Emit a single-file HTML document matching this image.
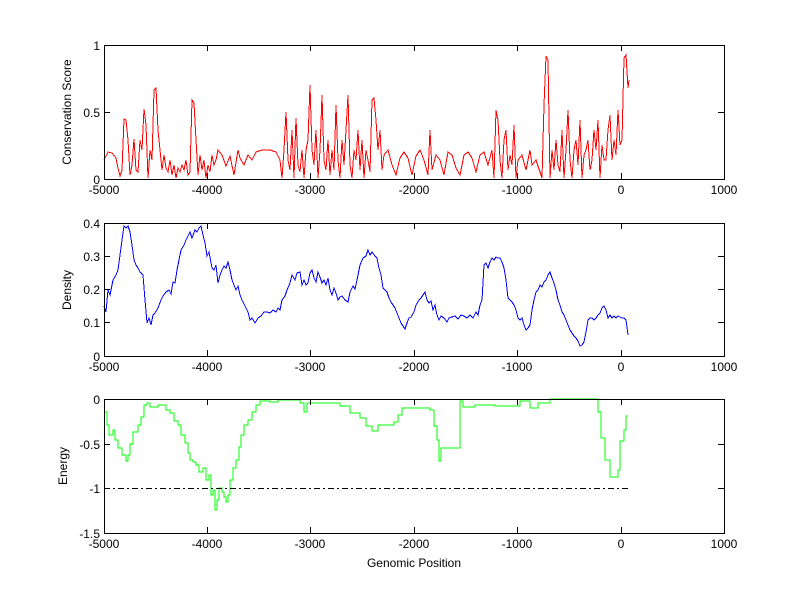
<!DOCTYPE html>
<html><head><style>
html,body{margin:0;padding:0;background:#fff;width:800px;height:599px;overflow:hidden}
text{font-family:"Liberation Sans",sans-serif;font-size:12px;fill:#000}
</style></head><body>
<svg width="800" height="599" viewBox="0 0 800 599" xmlns="http://www.w3.org/2000/svg">
<rect width="800" height="599" fill="#fff"/>
<g fill="none" stroke-width="1" shape-rendering="crispEdges">
<polyline stroke="#f00" points="104,160 108,152 112,153 116,158 118,168 120,176 122,170 124,119 126,120 128,140 130,175 132,165 134,139 136,170 138,172 140,140 142,150 144,109 146,125 148,178 150,150 152,160 154,90 156,88 158,130 160,150 162,170 164,155 166,168 168,172 170,160 172,175 174,165 176,178 178,168 180,172 182,165 184,170 186,160 188,175 190,172 192,100 194,103 196,140 198,175 200,155 202,170 204,160 206,178 208,165 210,172 212,155 214,165 216,160 218,150 222,155 226,166 230,156 234,175 238,150 240,158 244,165 248,155 252,160 256,152 262,150 270,150 276,152 280,160 282,178 284,150 286,112 288,160 290,170 292,130 294,178 296,118 298,165 300,172 302,150 304,178 306,150 308,140 310,85 312,150 314,165 316,130 318,178 320,150 322,95 324,160 326,170 328,140 330,175 332,150 334,170 336,105 338,160 340,178 342,140 344,165 346,130 348,95 350,165 352,178 354,150 356,160 358,130 360,170 362,140 364,178 366,150 368,160 370,172 372,100 374,98 376,120 378,150 380,130 382,170 384,155 388,150 392,165 396,175 400,158 404,152 408,158 412,175 416,156 420,150 424,160 428,175 430,130 432,170 436,155 440,160 444,175 448,152 452,155 456,168 460,175 464,155 468,152 472,158 476,172 480,155 484,152 488,165 492,150 494,178 496,110 498,120 500,160 502,178 504,140 506,130 508,170 510,155 512,165 514,125 516,178 518,160 522,155 526,170 530,150 532,165 536,160 540,172 542,178 544,105 546,56 548,60 550,178 552,150 554,170 556,140 558,165 560,172 562,130 564,178 566,150 568,110 570,160 572,178 574,150 576,140 578,165 580,120 582,178 584,155 586,150 588,140 590,170 592,160 594,130 596,150 598,120 600,178 602,145 604,160 606,160 608,130 610,115 612,160 614,140 616,155 618,110 620,145 622,140 624,58 626,55 628,88 629,80"/>
<polyline stroke="#00f" points="104,306 106,312 108,290 110,295 113,280 116,275 118,270 120,255 122,240 124,226 126,228 128,226 130,232 132,245 134,260 136,265 138,268 140,272 143,275 145,300 147,323 149,318 151,325 153,315 155,313 158,308 161,300 163,296 166,292 169,290 171,294 173,282 175,283 177,270 179,260 181,250 184,245 186,240 188,236 190,232 192,238 195,230 197,232 199,228 201,226 203,235 205,243 207,256 209,252 212,268 214,270 216,265 218,283 220,275 222,270 224,266 226,268 228,262 230,270 232,280 234,285 236,290 238,286 240,295 242,300 245,306 248,312 250,320 252,318 255,323 258,318 261,316 264,312 267,312 270,313 273,310 276,312 278,308 280,310 282,300 285,296 287,290 290,283 292,275 295,280 297,273 300,272 302,285 304,280 306,285 308,283 310,273 312,270 314,278 316,282 318,272 320,277 322,283 324,280 326,285 328,278 330,290 332,295 334,288 336,293 338,300 340,297 342,296 345,300 348,302 350,292 353,286 355,289 357,280 360,265 363,258 366,256 368,250 370,255 372,252 375,256 377,258 379,268 381,275 383,288 385,290 387,292 389,298 391,302 393,305 395,308 397,313 399,318 401,323 403,326 405,329 407,323 409,318 411,317 414,312 416,305 419,300 421,298 423,295 425,292 427,300 429,303 431,301 433,310 435,305 437,315 439,320 441,316 444,318 447,322 449,318 452,317 455,316 458,319 461,315 464,316 467,318 470,315 473,318 476,312 478,315 480,305 482,300 484,265 486,263 488,268 490,262 492,258 494,260 496,257 498,258 500,258 502,262 504,268 506,280 508,298 510,300 512,302 514,305 516,310 518,318 520,320 522,318 524,325 526,330 528,328 530,325 532,310 534,300 536,292 538,290 540,285 542,287 544,282 546,280 548,275 550,272 552,278 554,283 556,290 558,300 560,305 562,312 564,315 566,320 568,325 570,330 572,333 574,336 576,338 578,341 580,346 582,345 584,342 586,332 588,320 590,318 592,318 594,320 596,318 598,315 600,313 602,308 604,306 606,310 608,318 610,315 612,318 614,316 616,318 618,316 620,317 622,318 624,318 626,320 628,335"/>
<polyline stroke="#0f0" points="104,412 107,412 107,425 109,425 109,435 113,435 113,430 115,430 115,440 118,440 118,448 122,448 122,455 126,455 126,461 128,461 128,455 130,455 130,444 133,444 133,432 138,432 138,425 141,425 141,417 144,417 144,405 147,405 147,403 150,403 150,407 158,407 158,405 166,405 166,410 170,410 170,413 174,413 174,421 178,421 178,425 181,425 181,435 185,435 185,443 188,443 188,453 190,453 190,460 193,460 193,462 196,462 196,465 199,465 199,472 203,472 203,468 206,468 206,480 209,480 209,475 211,475 211,495 213,495 213,490 215,490 215,510 217,510 217,500 219,500 219,488 222,488 222,492 224,492 224,497 226,497 226,502 228,502 228,495 230,495 230,480 233,480 233,468 236,468 236,460 239,460 239,447 241,447 241,435 244,435 244,425 248,425 248,420 252,420 252,412 256,412 256,405 260,405 260,401 270,401 270,402 278,402 278,400 300,400 300,403 304,403 304,412 307,412 307,403 340,403 340,406 350,406 350,413 360,413 360,418 366,418 366,426 372,426 372,431 378,431 378,425 394,425 394,422 398,422 398,415 402,415 402,408 430,408 430,410 434,410 434,426 437,426 437,440 439,440 439,461 441,461 441,448 444,448 444,448 457,448 457,448 460,448 460,401 463,401 463,407 475,407 475,405 495,405 495,406 520,406 520,401 530,401 530,408 538,408 538,403 550,403 550,399 598,399 598,412 601,412 601,438 605,438 605,460 610,460 610,477 618,477 618,470 620,470 620,441 624,441 624,430 626,430 626,416 628,416"/>
<line x1="104" y1="488.5" x2="629" y2="488.5" stroke="#000" stroke-dasharray="6,3,2,3"/>
</g>
<g stroke="#000" fill="none" stroke-width="1" shape-rendering="crispEdges">
<rect x="104.5" y="45.5" width="620" height="134"/>
<rect x="104.5" y="223.5" width="620" height="133"/>
<rect x="104.5" y="399.5" width="620" height="134"/>
<path d="M207.5,45v6M310.5,45v6M414.5,45v6M517.5,45v6M621.5,45v6M207.5,179v-6M310.5,179v-6M414.5,179v-6M517.5,179v-6M621.5,179v-6
M104,112.5h6M724,112.5h-6
M207.5,223v6M310.5,223v6M414.5,223v6M517.5,223v6M621.5,223v6M207.5,356v-6M310.5,356v-6M414.5,356v-6M517.5,356v-6M621.5,356v-6
M104,256.5h6M104,289.5h6M104,322.5h6M724,256.5h-6M724,289.5h-6M724,322.5h-6
M207.5,399v6M310.5,399v6M414.5,399v6M517.5,399v6M621.5,399v6M207.5,533v-6M310.5,533v-6M414.5,533v-6M517.5,533v-6M621.5,533v-6
M104,444.5h6M104,488.5h6M724,444.5h-6M724,488.5h-6"/>
</g>
<g text-anchor="middle">
<text x="104" y="194">-5000</text><text x="207" y="194">-4000</text><text x="310" y="194">-3000</text><text x="414" y="194">-2000</text><text x="517" y="194">-1000</text><text x="621" y="194">0</text><text x="724" y="194">1000</text>
<text x="104" y="371">-5000</text><text x="207" y="371">-4000</text><text x="310" y="371">-3000</text><text x="414" y="371">-2000</text><text x="517" y="371">-1000</text><text x="621" y="371">0</text><text x="724" y="371">1000</text>
<text x="104" y="548">-5000</text><text x="207" y="548">-4000</text><text x="310" y="548">-3000</text><text x="414" y="548">-2000</text><text x="517" y="548">-1000</text><text x="621" y="548">0</text><text x="724" y="548">1000</text>
<text x="414" y="567">Genomic Position</text>
</g>
<g text-anchor="end">
<text x="100" y="50">1</text><text x="100" y="117">0.5</text><text x="100" y="184">0</text>
<text x="100" y="228">0.4</text><text x="100" y="261">0.3</text><text x="100" y="294">0.2</text><text x="100" y="327">0.1</text><text x="100" y="361">0</text>
<text x="100" y="404">0</text><text x="100" y="449">-0.5</text><text x="100" y="493">-1</text><text x="100" y="538">-1.5</text>
</g>
<text transform="translate(71,112) rotate(-90)" text-anchor="middle">Conservation Score</text>
<text transform="translate(71,290) rotate(-90)" text-anchor="middle">Density</text>
<text transform="translate(67,466) rotate(-90)" text-anchor="middle">Energy</text>
</svg>
</body></html>
